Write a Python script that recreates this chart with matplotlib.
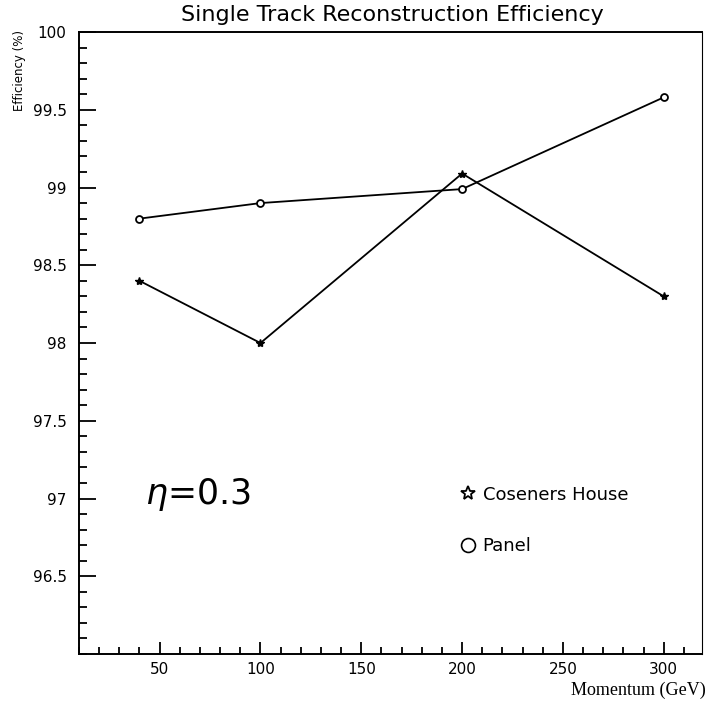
import matplotlib
matplotlib.use("Agg")
import matplotlib.pyplot as plt
from matplotlib.lines import Line2D
from matplotlib.ticker import MultipleLocator

# data
momentum = [40, 100, 200, 300]
eff_coseners = [98.4, 98.0, 99.09, 98.3]
eff_panel = [98.8, 98.9, 98.99, 99.58]

fig = plt.figure(figsize=(7.06, 7.04), dpi=100)
ax = fig.add_axes([0.1119, 0.0710, 0.8825, 0.8835])

ax.plot(momentum, eff_coseners, color="black", lw=1.3, marker="*", ms=6,
        mfc="black", mec="black")
ax.plot(momentum, eff_panel, color="black", lw=1.3, marker="o", ms=5,
        mfc="white", mec="black", mew=1.3)

ax.set_xlim(10, 319)
ax.set_ylim(96, 100)

ax.xaxis.set_minor_locator(MultipleLocator(10))
ax.yaxis.set_minor_locator(MultipleLocator(0.1))
ax.set_yticks([96.5, 97, 97.5, 98, 98.5, 99, 99.5, 100])
ax.set_yticklabels(["96.5", "97", "97.5", "98", "98.5", "99", "99.5", "100"])
ax.set_xticks([50, 100, 150, 200, 250, 300])

ax.tick_params(axis="both", which="both", direction="in", top=False, right=False,
               labelsize=11, width=1.3)
ax.tick_params(axis="y", which="major", length=12, pad=9)
ax.tick_params(axis="y", which="minor", length=6)
ax.tick_params(axis="x", which="major", length=9, pad=6)
ax.tick_params(axis="x", which="minor", length=5)

for side in ["left", "bottom", "top"]:
    ax.spines[side].set_linewidth(1.4)
ax.spines["right"].set_linewidth(0.8)

fig.text(0.556, 0.979, "Single Track Reconstruction Efficiency", ha="center",
         va="center", fontsize=16)
fig.text(0.028, 0.957, "Efficiency (%)", rotation=90, ha="center", va="top",
         fontsize=8.5)
fig.text(1.0, 0.02, "Momentum (GeV)", ha="right", va="center", fontsize=13,
         family=["Liberation Serif", "DejaVu Serif"])

ax.text(0.106, 0.257, r"$\eta$=0.3", transform=ax.transAxes, ha="left",
        va="center", fontsize=25)

handles = [
    Line2D([], [], ls="none", marker="*", ms=10, mfc="white", mec="black", mew=1.3),
    Line2D([], [], ls="none", marker="o", ms=10, mfc="white", mec="black", mew=1.2),
]
ax.legend(handles, ["Coseners House", "Panel"], loc="upper left",
          bbox_to_anchor=(0.587, 0.297), frameon=False, fontsize=13,
          handlelength=0.8, handletextpad=0.4, labelspacing=1.85)

fig.savefig("out.png", dpi=100, facecolor="white")
